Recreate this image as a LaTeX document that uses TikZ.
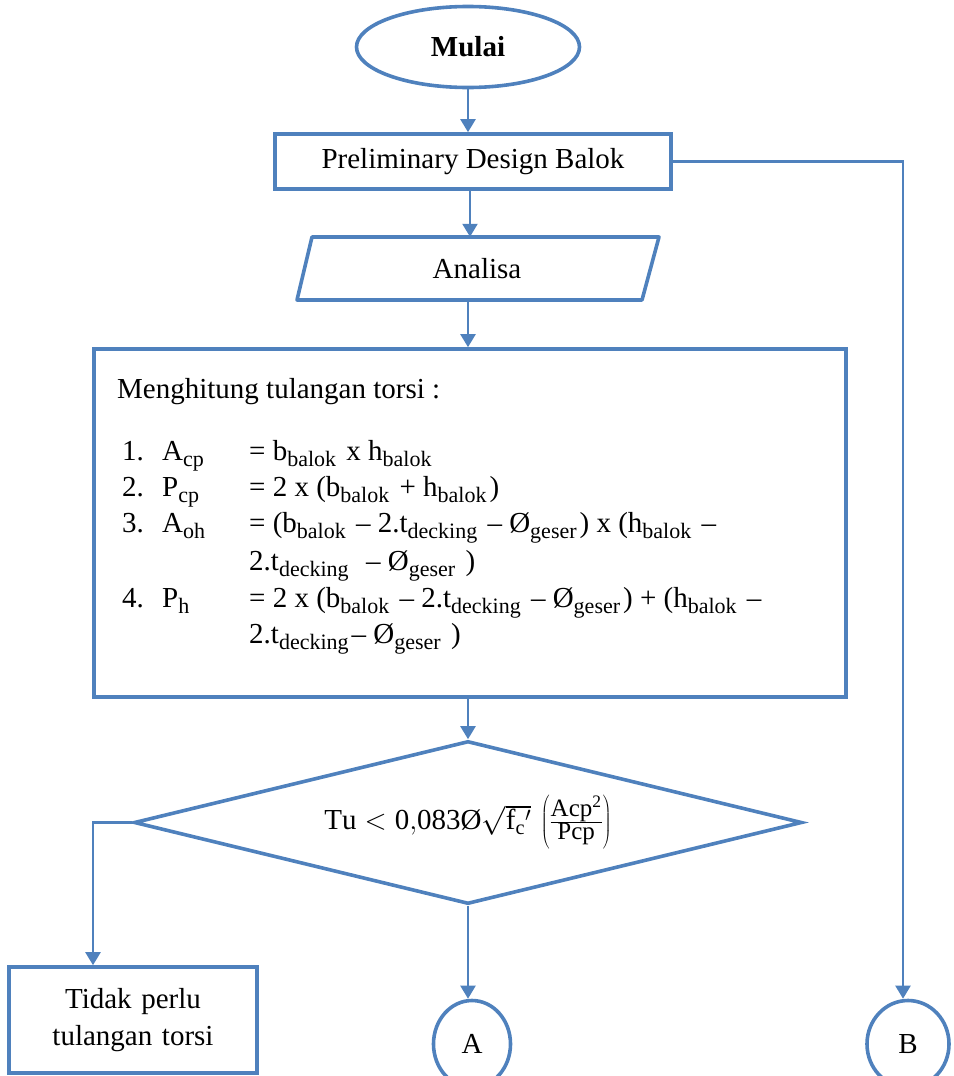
\documentclass[tikz,border=0pt]{standalone}
\usepackage{fix-cm}
\usepackage{fontspec}
\setmainfont{Liberation Serif}
\usetikzlibrary{shapes.geometric,arrows.meta}
\definecolor{flowblue}{HTML}{4F81BD}
% lowered small text for subscripts in the formula list
\newcommand{\lsub}[1]{\raisebox{-0.22em}{\fontsize{22}{22}\selectfont #1}\kern3pt\relax}
% explicit-size text inside the decision fraction
\newcommand{\fractext}[1]{\mbox{\fontsize{25}{25}\selectfont #1}}
\tikzset{
  outline/.style={draw=flowblue, line width=3.6pt, inner sep=0pt,
    font=\fontsize{29}{36}\selectfont, align=center},
  flowline/.style={draw=flowblue, line width=2.2pt},
  flowarrow/.style={flowline, -{Triangle[width=15pt,length=13pt]}},
  bodytext/.style={anchor=base west, inner sep=0pt, font=\fontsize{29}{36}\selectfont},
}
\begin{document}
\begin{tikzpicture}[x=1pt,y=-1pt]
\useasboundingbox (0,0) rectangle (953,1076);

% start terminator
\node[outline, ellipse, minimum width=223pt, minimum height=81pt,
  font=\fontsize{29}{36}\selectfont\bfseries] (mulai) at (468,47) {Mulai};

% preliminary design
\node[outline, rectangle, minimum width=396pt, minimum height=55pt] (pre) at (473,161.5)
  {Preliminary Design Balok};

% analysis (parallelogram drawn around an invisible node)
\node[inner sep=0pt, minimum width=330pt, minimum height=63pt,
  font=\fontsize{29}{36}\selectfont] (ana) at (477,268.5) {Analisa};
\draw[flowblue, line width=3.6pt, line join=round]
  (312,237) -- (659,237) -- (642,300) -- (297,300) -- cycle;

% torsion reinforcement computation
\node[outline, rectangle, minimum width=752pt, minimum height=348pt] (calc) at (470,523) {};
\node[bodytext] (t0) at (117,398) {Menghitung tulangan torsi :};
\node[bodytext] (n1) at (122,460) {1.};
\node[bodytext] (v1) at (162,460) {A\lsub{cp}};
\node[bodytext] (e1) at (249,460) {= b\lsub{balok} x h\lsub{balok}};
\node[bodytext] (n2) at (122,496) {2.};
\node[bodytext] (v2) at (162,496) {P\lsub{cp}};
\node[bodytext] (e2) at (249,496) {= 2 x (b\lsub{balok} + h\lsub{balok})};
\node[bodytext] (n3) at (122,532) {3.};
\node[bodytext] (v3) at (162,532) {A\lsub{oh}};
\node[bodytext] (e3) at (249,532) {= (b\lsub{balok} -- 2.t\lsub{decking} -- Ø\lsub{geser}) x (h\lsub{balok} --};
\node[bodytext] (c3) at (249,570) {2.t\lsub{decking}\ \ -- Ø\lsub{geser} )};
\node[bodytext] (n4) at (122,607) {4.};
\node[bodytext] (v4) at (162,607) {P\lsub{h}};
\node[bodytext] (e4) at (249,607) {= 2 x (b\lsub{balok} -- 2.t\lsub{decking} -- Ø\lsub{geser}) + (h\lsub{balok} --};
\node[bodytext] (c4) at (249,643) {2.t\lsub{decking}-- Ø\lsub{geser} )};

% decision
\node[outline, diamond, aspect=4.1, minimum width=668pt, minimum height=163pt,
  font=\fontsize{29}{34}\selectfont] (dec) at (468,822.5)
  {$\mathrm{Tu} < \mathrm{0{,}083}\mbox{Ø}\sqrt{\mathrm{f}_{\mathrm{c}}{}'}\,\left(\frac{\fractext{Acp\textsuperscript{2}}}{\fractext{Pcp}}\right)$};

% outcomes
\node[outline, rectangle, minimum width=248pt, minimum height=106pt,
  text width=240pt, font=\fontsize{29}{37}\selectfont] (tidak) at (133,1020)
  {Tidak perlu\\tulangan torsi};
\node[outline, ellipse, minimum width=77pt, minimum height=87pt,
  font=\fontsize{29}{36}\selectfont] (A) at (472,1044) {A};
\node[outline, ellipse, minimum width=82pt, minimum height=87pt,
  font=\fontsize{29}{36}\selectfont] (B) at (908,1044) {B};

% connectors
\draw[flowarrow] (mulai.south) -- (mulai.south |- pre.north);
\draw[flowarrow] ([xshift=-3pt]pre.south) -- ([xshift=-3pt]pre.south |- ana.north);
\draw[flowarrow] (mulai.south |- ana.south) -- (mulai.south |- calc.north);
\draw[flowarrow] (mulai.south |- calc.south) -- (dec.north);
\draw[flowarrow] (dec.west) -| ([xshift=-40pt]tidak.north);
\draw[flowarrow] (dec.south) -- (dec.south |- A.north);
\draw[flowarrow] (pre.east) -| ([xshift=-5pt]B.north);
\end{tikzpicture}
\end{document}
